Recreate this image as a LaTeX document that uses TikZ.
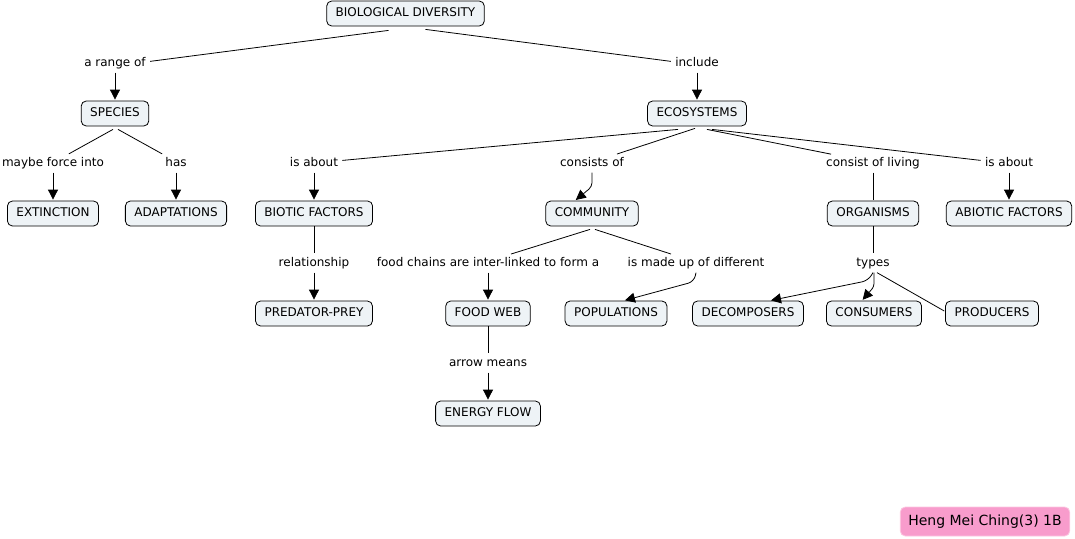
\documentclass[tikz,border=0pt]{standalone}
\usepackage{fontspec}
\setmainfont{DejaVu Sans}
\usepackage{tikz}
\usetikzlibrary{arrows.meta}
\definecolor{conceptfill}{RGB}{238,243,246}
\definecolor{creditfill}{RGB}{248,156,204}
\definecolor{creditline}{RGB}{252,198,224}

\begin{document}
\begin{tikzpicture}[x=1pt,y=1pt,-,>={Triangle[length=10pt,width=10pt]},shorten >=1pt,
  node distance=50pt,line width=0.8pt,font=\fontsize{12}{14}\selectfont,
  concept/.style={rectangle,rounded corners=5pt,draw,fill=conceptfill,minimum height=25pt,
    inner xsep=9pt,text height=9pt,text depth=2.5pt},
  link/.style={inner sep=3pt,text height=9pt,text depth=2.5pt},
  credit/.style={rectangle,rounded corners=5pt,draw=creditline,fill=creditfill,minimum height=29pt,
    inner xsep=8pt,font=\fontsize{14}{16}\selectfont}]

  \useasboundingbox (0,0) rectangle (1075,-538);

  \node[concept] (1) at (405.5,-13.5) {BIOLOGICAL DIVERSITY};
  \node[link] (2) [below of=1, xshift=-290.5pt] {a range of};
  \node[link] (3) [below of=1, xshift=291.5pt] {include};
  \node[concept] (4) [below of=2] {SPECIES};
  \node[concept] (5) [below of=3] {ECOSYSTEMS};

  \node[link] (6) [below of=4, xshift=-62pt] {maybe force into};
  \node[link] (7) [below of=4, xshift=61pt] {has};
  \node[link] (8) [below of=5, xshift=-383pt] {is about};
  \node[link] (9) [below of=5, xshift=-105pt] {consists of};
  \node[link] (10) [below of=5, xshift=176pt] {consist of living};
  \node[link] (11) [below of=5, xshift=312pt] {is about};

  \node[concept] (12) [below of=6] {EXTINCTION};
  \node[concept] (13) [below of=7] {ADAPTATIONS};
  \node[concept] (14) [below of=8] {BIOTIC FACTORS};
  \node[concept] (15) [below of=9] {COMMUNITY};
  \node[concept] (16) [below of=10] {ORGANISMS};
  \node[concept] (17) [below of=11] {ABIOTIC FACTORS};

  \node[link] (18) [below of=14] {relationship};
  \node[link] (19) [below of=15, xshift=-104pt] {food chains are inter-linked to form a};
  \node[link] (20) [below of=15, xshift=104pt] {is made up of different};
  \node[link] (21) [below of=16] {types};

  \node[concept] (22) [below of=18] {PREDATOR-PREY};
  \node[concept] (23) [below of=19] {FOOD WEB};
  \node[concept] (24) [below of=20, xshift=-80pt] {POPULATIONS};
  \node[concept] (25) [below of=21, xshift=-125pt] {DECOMPOSERS};
  \node[concept] (26) [below of=21, xshift=1pt] {CONSUMERS};
  \node[concept] (27) [below of=21, xshift=119pt] {PRODUCERS};
  \node[link] (28) [below of=23] {arrow means};
  \node[concept] (29) [below of=28] {ENERGY FLOW};

  \node[credit] (30) at (985,-521.5) {Heng Mei Ching(3) 1B};

  \path
    ([xshift=-17pt,yshift=-4pt]1.south) edge ([yshift=2pt]2.east)
    ([xshift=20pt,yshift=-3pt]1.south) edge ([yshift=2pt]3.west)
    (2) edge[->] (4)
    (3) edge[->] (5)
    ([xshift=-2pt,yshift=-3pt]4.south) edge ([xshift=15pt]6.north)
    ([xshift=3pt,yshift=-3pt]4.south) edge ([xshift=-13pt]7.north)
    (6) edge[->] (12)
    (7) edge[->] (13)
    ([xshift=-19pt,yshift=-3pt]5.south) edge ([yshift=3pt]8.east)
    ([xshift=-2pt,yshift=-2pt]5.south) edge ([xshift=24pt]9.north)
    ([xshift=10pt,yshift=-3pt]5.south) edge ([xshift=-41pt]10.north)
    ([xshift=15pt,yshift=-3pt]5.south) edge ([yshift=3pt]11.west)
    (8) edge[->] (14)
    (10) edge (16)
    (11) edge[->] (17)
    (14) edge (18)
    (18) edge[->] (22)
    ([xshift=-2pt,yshift=-3pt]15.south) edge ([xshift=22pt]19.north)
    ([xshift=3pt,yshift=-3pt]15.south) edge ([xshift=-24pt]20.north)
    (19) edge[->] (23)
    (16) edge (21)
    ([xshift=4pt]21.south) edge ([yshift=2pt]27.west)
    (23) edge (28)
    (28) edge[->] (29);

  % bent links
  \draw[->,rounded corners=4pt] (9.south) -- ++(0,-14) -- ([xshift=-17pt]15.north);
  \draw[->,rounded corners=6pt] (20.south) -- ++(-2,-9) -- ([xshift=8pt]24.north);
  \draw[->,rounded corners=6pt] (21.south) -- ++(-5,-8) -- ([xshift=22pt]25.north);
  \draw[->,rounded corners=3pt] ([xshift=1pt]21.south) -- ++(0,-14) -- ([xshift=-12pt]26.north);
\end{tikzpicture}
\end{document}
